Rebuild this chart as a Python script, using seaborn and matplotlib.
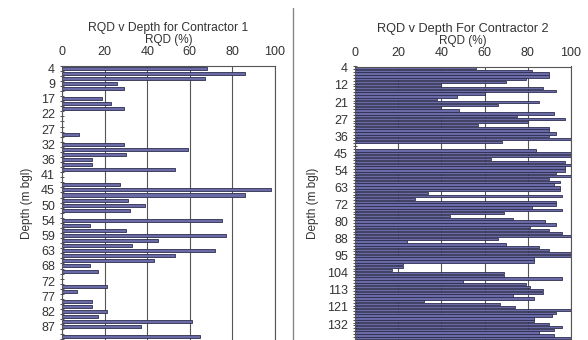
#!/usr/bin/env python3
import matplotlib
matplotlib.use('Agg')
import matplotlib.pyplot as plt
from matplotlib.lines import Line2D
import seaborn as sns
import pandas as pd

sns.set_style('white')
plt.rcParams['font.family'] = ['Liberation Sans', 'DejaVu Sans']

# Contractor 1: RQD per core run (0 = no bar), labels shown every 3rd run
rqd_c1 = [68, 86, 67, 26, 29, 0, 19, 23, 29, 0, 0, 0, 0, 8, 0, 29, 59, 30,
          14, 14, 53, 0, 0, 27, 98, 86, 31, 39, 32, 0, 75, 13, 30, 77, 45, 33,
          72, 53, 43, 13, 17, 0, 0, 21, 7, 0, 14, 14, 21, 17, 61, 37, 0, 65]
depth_labels_c1 = ['4', '9', '17', '22', '27', '32', '36', '41', '45', '50',
                   '54', '59', '63', '68', '72', '77', '82', '87']

# Contractor 2: labels shown every 6th run
rqd_c2 = [56, 82, 90, 90, 79, 70, 40, 87, 93, 60, 47, 38, 85, 66, 40, 48,
          92, 75, 97, 80, 57, 90, 90, 93, 90, 100, 68, 0, 0, 84, 100, 100,
          63, 97, 100, 97, 97, 93, 100, 90, 95, 92, 95, 95, 34, 96, 28, 93,
          93, 82, 96, 69, 44, 73, 88, 93, 81, 90, 96, 100, 66, 24, 70, 85,
          90, 100, 100, 83, 83, 22, 22, 17, 69, 69, 96, 50, 79, 81, 87, 87,
          73, 83, 32, 67, 74, 100, 93, 91, 83, 83, 90, 96, 92, 85, 92, 100]
depth_labels_c2 = ['4', '12', '21', '27', '36', '45', '54', '63', '72', '80',
                   '88', '95', '104', '113', '121', '132']

BAR = '#6a6aa6'
EDGE = '#2e2e50'
TXT = '#333333'


def draw(ax, values, labels, step, width, title, tsize):
    df = pd.DataFrame({'pos': range(len(values)), 'rqd': values})
    sns.barplot(data=df, x='rqd', y='pos', orient='h', color=BAR,
                edgecolor=EDGE, linewidth=0.6, width=width, saturation=1,
                ax=ax)
    ax.set_xlim(0, 100)
    ax.set_ylim(len(values) - 0.4, -0.5)
    ax.set_xticks([0, 20, 40, 60, 80, 100])
    ax.xaxis.tick_top()
    ax.xaxis.set_label_position('top')
    ax.tick_params(axis='x', length=0, pad=5.5, labelsize=9, colors=TXT)
    ax.set_yticks(range(0, len(labels) * step, step))
    ax.set_yticklabels(labels)
    ax.set_yticks([i + 0.5 for i in range(-1, len(values))], minor=True)
    ax.tick_params(axis='y', which='major', length=0, pad=5, labelsize=9,
                   colors=TXT)
    ax.tick_params(axis='y', which='minor', left=True, length=3,
                   direction='inout', width=0.6, color='#333333')
    ax.grid(axis='x', color='#555555', linewidth=0.8)
    ax.set_axisbelow(True)
    for s in ['left', 'top', 'right']:
        ax.spines[s].set_color('#555555')
        ax.spines[s].set_linewidth(0.8)
    ax.spines['bottom'].set_visible(False)
    ax.set_xlabel('RQD (%)', fontsize=8.5, color=TXT, labelpad=2)
    ax.set_ylabel('Depth (m bgl)', fontsize=8.5, color=TXT, labelpad=6)
    ax.set_title(title, fontsize=tsize, color=TXT, pad=2.5)


fig = plt.figure(figsize=(5.88, 3.40), dpi=100)
ax1 = fig.add_axes([62 / 588, 0, 213 / 588, 1 - 65.7 / 340])
ax2 = fig.add_axes([355 / 588, 0, 216 / 588, 1 - 66.5 / 340])

draw(ax1, rqd_c1, depth_labels_c1, 3, 0.6, 'RQD v Depth for Contractor 1', 8.7)
draw(ax2, rqd_c2, depth_labels_c2, 6, 0.8, 'RQD v Depth For Contractor 2', 9.2)

# divider between the two charts
fig.add_artist(Line2D([293 / 588, 293 / 588], [0, 1 - 8 / 340],
                      color='#888888', linewidth=1))

fig.savefig('out.png', dpi=100)
